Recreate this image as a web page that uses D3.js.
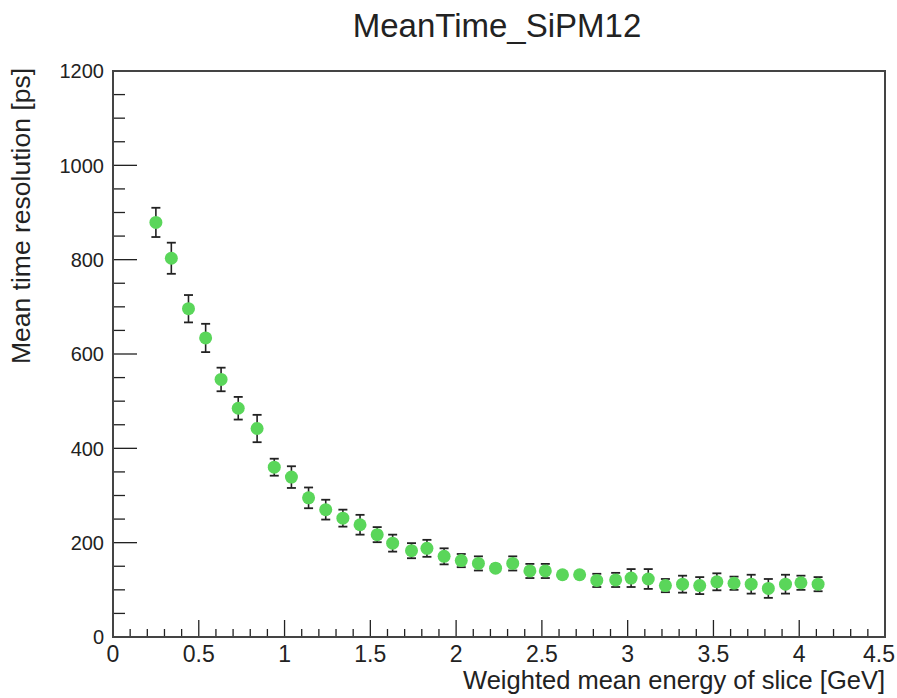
<!DOCTYPE html>
<html>
<head>
<meta charset="utf-8">
<script src="https://cdn.jsdelivr.net/npm/d3@7"></script>
<style>
  body { margin: 0; background: #fff; }
  svg { display: block; font-family: "Liberation Sans", Arial, sans-serif; }
</style>
</head>
<body>
<div id="chart"></div>
<script>
var title = "MeanTime_SiPM12";
var xTitle = "Weighted mean energy of slice [GeV]";
var yTitle = "Mean time resolution [ps]";

// slice energies
var energy = [0.25, 0.34, 0.44, 0.54, 0.63, 0.73, 0.84, 0.94, 1.04, 1.14,
  1.24, 1.34, 1.44, 1.54, 1.63, 1.74, 1.83, 1.93, 2.03, 2.13,
  2.23, 2.33, 2.43, 2.52, 2.62, 2.72, 2.82, 2.93, 3.02, 3.12,
  3.22, 3.32, 3.42, 3.52, 3.62, 3.72, 3.82, 3.92, 4.01, 4.11];
var meanTime = [879, 803, 696, 634, 546, 485, 442, 360, 339, 295,
  270, 252, 238, 217, 199, 183, 188, 171, 162, 156,
  146, 156, 140, 140, 132, 132, 120, 121, 125, 123,
  109, 112, 109, 117, 114, 112, 103, 112, 115, 112];
var meanTimeErr = [31, 33, 29, 30, 25, 24, 29, 18, 23, 22,
  21, 18, 21, 16, 18, 16, 18, 17, 14, 15,
  8, 15, 15, 15, 6, 6, 14, 15, 19, 21,
  14, 18, 18, 18, 14, 20, 20, 20, 15, 15];
var xTicks = [0, 0.5, 1, 1.5, 2, 2.5, 3, 3.5, 4, 4.5];
var yTicks = [0, 200, 400, 600, 800, 1000, 1200];

var W = 897, H = 698;
var margin = { top: 71, right: 12, bottom: 61, left: 113 },
  width = W - margin.left - margin.right,
  height = H - margin.top - margin.bottom;

var data = energy.map(function (e, i) {
  return { x: e, y: meanTime[i], err: meanTimeErr[i] };
});

var svg = d3.select("#chart").append("svg")
  .attr("width", W)
  .attr("height", H);

var g = svg.append("g")
  .attr("transform", "translate(" + margin.left + "," + margin.top + ")");

var x = d3.scaleLinear().domain([0, 4.5]).range([0, width]);
var y = d3.scaleLinear().domain([0, 1200]).range([height, 0]);

// minor ticks
var xMinor = d3.range(0, 45).map(function (i) { return i / 10; });
var yMinor = d3.range(0, 24).map(function (i) { return i * 50; });

var ink = "#222";

g.append("g").selectAll("line.xminor")
  .data(xMinor)
  .enter().append("line")
  .attr("x1", function (d) { return x(d); })
  .attr("x2", function (d) { return x(d); })
  .attr("y1", height)
  .attr("y2", function (d, i) { return height - (i % 5 == 0 ? 17 : 8); })
  .attr("stroke", ink)
  .attr("stroke-width", 1.3);

g.append("g").selectAll("line.yminor")
  .data(yMinor)
  .enter().append("line")
  .attr("x1", 0)
  .attr("x2", function (d, i) { return i % 4 == 0 ? 24 : 12; })
  .attr("y1", function (d) { return y(d); })
  .attr("y2", function (d) { return y(d); })
  .attr("stroke", ink)
  .attr("stroke-width", 1.3);

// frame
g.append("rect")
  .attr("x", 0)
  .attr("y", 0)
  .attr("width", width)
  .attr("height", height)
  .attr("fill", "none")
  .attr("stroke", "#444")
  .attr("stroke-width", 2);

// tick labels (last one nudged in so it stays on the page)
g.append("g").selectAll("text.xlab")
  .data(xTicks)
  .enter().append("text")
  .attr("x", function (d, i) { return x(d) - (i == xTicks.length - 1 ? 6 : 0); })
  .attr("y", height + 25)
  .attr("text-anchor", "middle")
  .attr("font-size", 23)
  .attr("fill", ink)
  .text(function (d) { return d; });

g.append("g").selectAll("text.ylab")
  .data(yTicks)
  .enter().append("text")
  .attr("x", -9)
  .attr("y", function (d) { return y(d); })
  .attr("dy", "0.36em")
  .attr("text-anchor", "end")
  .attr("font-size", 20)
  .attr("fill", ink)
  .text(function (d) { return d; });

// error bars
var bars = g.append("g").selectAll("g.err")
  .data(data)
  .enter().append("g");

bars.append("line")
  .attr("x1", function (d) { return x(d.x); })
  .attr("x2", function (d) { return x(d.x); })
  .attr("y1", function (d) { return y(d.y - d.err); })
  .attr("y2", function (d) { return y(d.y + d.err); })
  .attr("stroke", ink)
  .attr("stroke-width", 1.6);

bars.selectAll("line.cap")
  .data(function (d) { return [d.y - d.err, d.y + d.err].map(function (v) { return { x: d.x, v: v }; }); })
  .enter().append("line")
  .attr("x1", function (d) { return x(d.x) - 4.5; })
  .attr("x2", function (d) { return x(d.x) + 4.5; })
  .attr("y1", function (d) { return y(d.v); })
  .attr("y2", function (d) { return y(d.v); })
  .attr("stroke", ink)
  .attr("stroke-width", 1.8);

// markers
g.append("g").selectAll("circle")
  .data(data)
  .enter().append("circle")
  .attr("cx", function (d) { return x(d.x); })
  .attr("cy", function (d) { return y(d.y); })
  .attr("r", 6.5)
  .attr("fill", "#5ad65a");

// titles
svg.append("text")
  .attr("x", 497)
  .attr("y", 37)
  .attr("text-anchor", "middle")
  .attr("font-size", 33)
  .attr("fill", ink)
  .text(title);

svg.append("text")
  .attr("x", margin.left + width)
  .attr("y", 689)
  .attr("text-anchor", "end")
  .attr("font-size", 25.5)
  .attr("fill", ink)
  .text(xTitle);

svg.append("text")
  .attr("transform", "translate(30," + 68 + ") rotate(-90)")
  .attr("text-anchor", "end")
  .attr("font-size", 26.5)
  .attr("fill", ink)
  .text(yTitle);
</script>
</body>
</html>
